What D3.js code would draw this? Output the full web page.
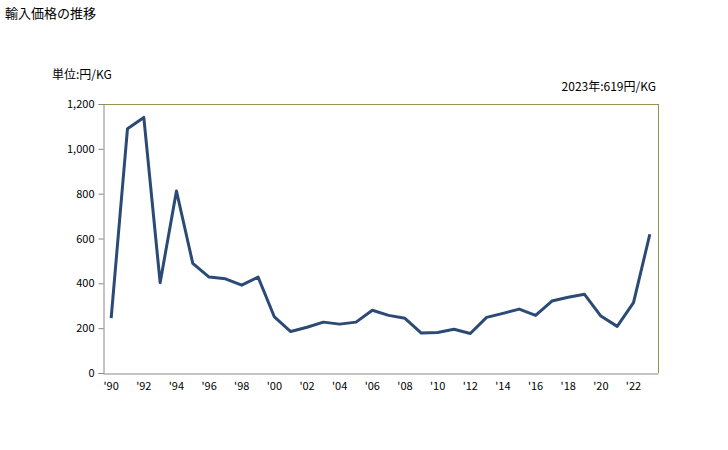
<!DOCTYPE html>
<html>
<head>
<meta charset="utf-8">
<script src="https://cdn.jsdelivr.net/npm/d3@7"></script>
<style>
body{margin:0;background:#fff;}
text{font-family:"Noto Sans CJK JP","Noto Sans",sans-serif;fill:#000;}
</style>
</head>
<body>
<svg id="chart" width="728" height="450"></svg>
<script>
const years = d3.range(1990, 2024);
const values = [245,1090,1140,403,812,489,428,420,392,428,250,185,204,227,218,227,280,257,244,178,181,195,176,248,266,285,257,321,338,351,254,208,314,619];
const yTicks = [0,200,400,600,800,1000,1200];
const xTickYears = [1990,1992,1994,1996,1998,2000,2002,2004,2006,2008,2010,2012,2014,2016,2018,2020,2022];

const svg = d3.select("#chart");
const m = {left:103, right:658, top:104, bottom:373};

const x = d3.scaleBand().domain(years).range([m.left, m.right]);
const y = d3.scaleLinear().domain([0,1200]).range([m.bottom, m.top]);

svg.append("text").attr("x",5).attr("y",18).attr("font-size",13).text("輸入価格の推移");
svg.append("text").attr("x",52).attr("y",79).attr("font-size",12).text("単位:円/KG");
svg.append("text").attr("x",656).attr("y",91).attr("font-size",12).attr("text-anchor","end").text("2023年:619円/KG");

// border top/right olive
svg.append("line").attr("x1",m.left).attr("x2",m.right).attr("y1",m.top+0.5).attr("y2",m.top+0.5).attr("stroke","#9c8f4c").attr("stroke-width",1);
svg.append("line").attr("x1",m.right+0.5).attr("x2",m.right+0.5).attr("y1",m.top).attr("y2",m.bottom).attr("stroke","#9c8f4c").attr("stroke-width",1);

// y axis
const yAxis = d3.axisLeft(y).tickValues(yTicks).tickSize(5).tickPadding(4).tickFormat(d3.format(","));
const gy = svg.append("g").attr("transform",`translate(${m.left+0.5},0)`).call(yAxis);
gy.select(".domain").attr("stroke","#888");
gy.selectAll(".tick line").attr("stroke","#888");
gy.selectAll("text").attr("font-size",11).style("font-family","'Noto Sans CJK JP',sans-serif");

// x axis
const xAxis = d3.axisBottom(x).tickValues(xTickYears).tickSize(0).tickPadding(9).tickFormat(d => "'" + String(d).slice(2));
const gx = svg.append("g").attr("transform",`translate(0,${m.bottom+0.5})`).call(xAxis);
gx.select(".domain").attr("stroke","#888");
gx.selectAll("text").attr("font-size",11).style("font-family","'Noto Sans CJK JP',sans-serif");

const line = d3.line().x((d,i)=>x(years[i])+x.bandwidth()/2).y(d=>y(d));
svg.append("path").datum(values).attr("d",line).attr("fill","none").attr("stroke","#2b4a75").attr("stroke-width",3).attr("stroke-linejoin","round");
</script>
</body>
</html>
